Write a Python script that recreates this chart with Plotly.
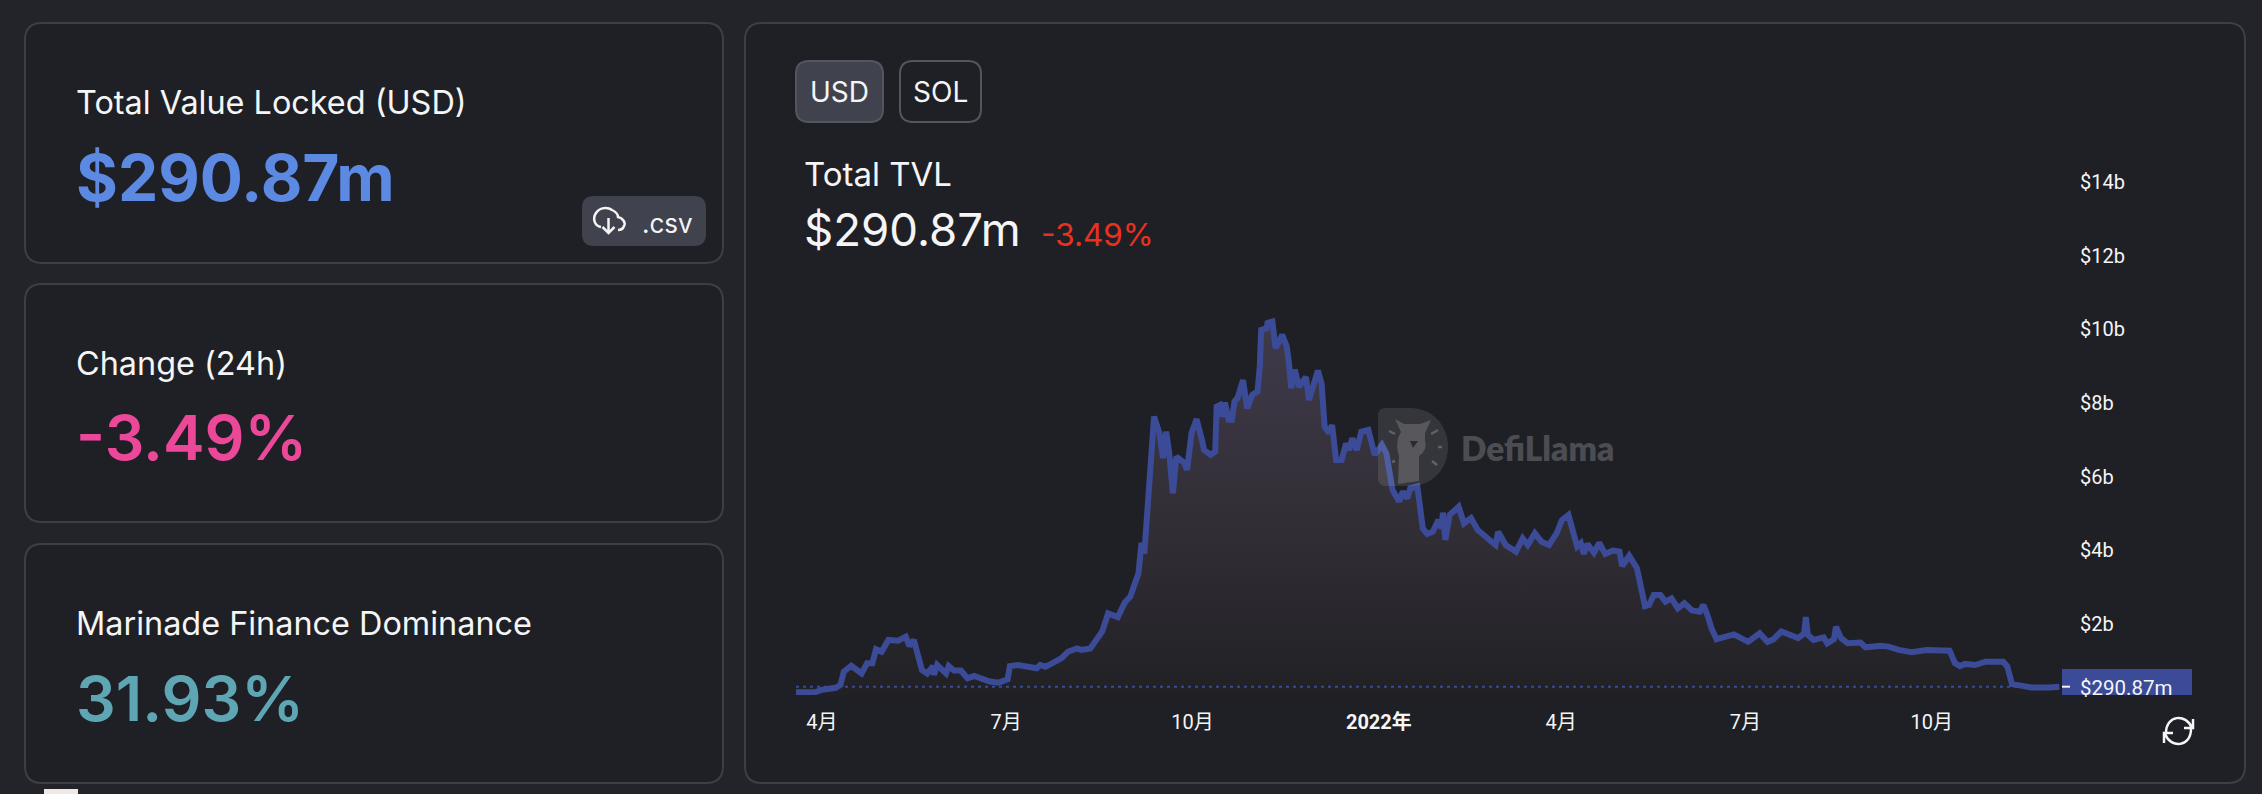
#Marinade Finance TVL panel (DefiLlama style) redrawn with plotly
import pandas as pd
import plotly.graph_objects as go

W, H = 2262, 794

#data
START_DATE = pd.Timestamp("2021-04-01")
days_since_start = [
    -12.8, -3.5, 0.2, 6.8, 9.2, 10.8, 14.5, 17.8, 19.6, 22.3, 24.9, 26.7, 29.5, 32.8, 37.7, 41.4, 43.2, 45.4,
    47.6, 49.4, 52, 54.9, 55.3, 56.9, 61.3, 62.6, 65.3, 68.6, 71.9, 75.2, 82.9, 87.3, 91.7, 92.8, 96.8, 106,
    107.8, 110.4, 118.2, 121.5, 125.9, 128.1, 132.5, 135.8, 138.4, 141.3, 146.1, 149.5, 152.3, 156.3, 157.8,
    159.2, 161.2, 162.3, 164, 166.7, 168.4, 170, 171.5, 173.3, 175, 178.8, 180.3, 182.5, 185, 187.6, 188.7,
    192, 194.2, 194.9, 196.4, 197.5, 199, 200.8, 202.4, 203.7, 205.2, 207.9, 210, 212.5, 215.1, 216.2, 216.9,
    219.6, 220, 222.4, 224, 227.3, 229.5, 230.6, 231.7, 233.5, 235.5, 239, 240.5, 244.9, 246.7, 248.2, 250.4,
    251.9, 253.9, 256.6, 258.8, 260.3, 261.9, 264.1, 266.3, 269.8, 272.9, 276.5, 278.7, 281.7, 285, 286.8,
    289, 290.5, 294, 296.7, 298.9, 301.6, 304.4, 306, 306.6, 307.8, 310, 314.4, 317, 320.5, 323.8, 327.6,
    330, 332.6, 333.9, 337.6, 342.7, 346, 348.5, 352, 355.3, 359, 362.8, 365.4, 368.6, 372.9, 374.7, 376.2,
    378, 381.2, 383.8, 386.8, 390.6, 393.8, 395.1, 398.6, 402.4, 404.4, 406.4, 408.4, 410.7, 414, 416.5,
    419.5, 422.6, 425.8, 429.6, 433.4, 435.2, 437.2, 439.2, 441.7, 446, 450.3, 457.3, 463, 466.9, 469.9,
    473.7, 482, 485, 485.8, 486.8, 489.6, 494.6, 496.4, 499.7, 500.7, 503.2, 506.5, 512.8, 515.3, 522.8,
    526.6, 531.7, 538, 545.5, 556.8, 559.4, 561.9, 564.4, 569.4, 574.5, 583.3, 585.3, 587.6, 592.1, 597.2,
    606, 611,
]
tvl_billions = [
    0.14, 0.14, 0.21, 0.26, 0.34, 0.70, 0.86, 0.74, 0.65, 0.93, 0.93, 1.31, 1.24, 1.56, 1.54, 1.65, 1.40, 1.56,
    1.11, 0.74, 0.65, 0.85, 0.61, 0.88, 0.65, 0.85, 0.73, 0.73, 0.52, 0.58, 0.43, 0.40, 0.49, 0.85, 0.88, 0.79,
    0.88, 0.83, 1.06, 1.24, 1.33, 1.29, 1.33, 1.56, 1.79, 2.28, 2.18, 2.57, 2.74, 3.37, 4.19,
    3.91, 5.64, 6.63, 7.63, 7.17, 6.50, 7.22, 6.63, 5.55, 6.54, 6.38, 6.18, 7.18, 7.56, 7.00, 6.72,
    6.59, 6.68, 7.90, 7.94, 7.63, 8.01, 7.54, 7.54, 8.04, 8.13, 8.62, 7.85, 8.22, 8.31, 8.99, 9.98,
    10.03, 10.17, 10.21, 9.49, 9.85, 9.53, 9.08, 8.40, 8.90, 8.44, 8.70, 8.08, 8.88, 8.53, 7.36, 7.18,
    7.40, 6.45, 6.45, 6.90, 6.72, 7.04, 6.72, 7.22, 7.27, 6.59, 6.86, 6.63, 5.64, 5.32, 5.59,
    5.41, 5.68, 5.73, 4.59, 4.44, 4.50, 4.82, 4.59, 5.02, 4.28, 4.96, 5.18, 4.73, 4.87, 4.55, 4.37,
    4.28, 4.14, 4.50, 4.14, 3.96, 4.32, 4.14, 4.46, 4.23, 4.14, 4.46, 4.82, 4.96, 4.10, 4.19, 3.90,
    4.17, 3.93, 4.20, 3.90, 3.99, 3.96, 3.57, 3.85, 3.51, 2.92, 2.48, 2.51, 2.78, 2.78, 2.60,
    2.69, 2.42, 2.56, 2.36, 2.33, 2.51, 2.24, 1.88, 1.58, 1.63, 1.71, 1.51, 1.74, 1.51, 1.58,
    1.79, 1.61, 1.74, 2.18, 1.70, 1.56, 1.63, 1.47, 1.58, 1.92, 1.61, 1.47, 1.49, 1.36, 1.40,
    1.38, 1.29, 1.23, 1.29, 1.27, 0.93, 0.85, 0.91, 0.88, 0.97, 0.97, 0.84, 0.36, 0.32, 0.27,
    0.27, 0.29,
]
LAST_TVL = 0.29087

x_tick_dates = ["2021-04-01", "2021-07-01", "2021-10-01", "2022-01-01", "2022-04-01", "2022-07-01", "2022-10-01"]
x_tick_labels = ["4月", "7月", "10月", "<b>2022年</b>", "4月", "7月", "10月"]
y_tick_values = [2, 4, 6, 8, 10, 12, 14]
y_tick_labels = ["$2b", "$4b", "$6b", "$8b", "$10b", "$12b", "$14b"]

card_titles = ["Total Value Locked (USD)", "Change (24h)", "Marinade Finance Dominance"]
card_values = ["$290.87m", "-3.49%", "31.93%"]

#colours
PAGE = "#22242a"
CARD = "#1f2025"
BORDER = "#3d3e49"
BUTTON = "#40424d"
BUTTON_LINE = "#53555f"
TEXT = "#f5f5f6"
LINE = "#3c4b97"
card_value_colors = ["#5c89e2", "#ec4899", "#5fa6b5"]
card_value_weights = [700, 600, 600]
card_value_sizes = [64, 62.5, 62.5]


#pixel position -> paper fraction
def fx(x):
    return x / W

def fy(y):
    return 1 - y / H

def pt(x, y):
    return f"{fx(x):.5f},{fy(y):.5f}"

def round_rect(x0, y0, x1, y1, r):
    return (f"M{pt(x0 + r, y0)} L{pt(x1 - r, y0)} Q{pt(x1, y0)} {pt(x1, y0 + r)} "
            f"L{pt(x1, y1 - r)} Q{pt(x1, y1)} {pt(x1 - r, y1)} "
            f"L{pt(x0 + r, y1)} Q{pt(x0, y1)} {pt(x0, y1 - r)} "
            f"L{pt(x0, y0 + r)} Q{pt(x0, y0)} {pt(x0 + r, y0)} Z")

def path_shape(path, fill="rgba(0,0,0,0)", line=None, width=0, layer="below"):
    return dict(type="path", xref="paper", yref="paper", path=path, fillcolor=fill, layer=layer,
                line=dict(color=line if line else "rgba(0,0,0,0)", width=width))

def label(text, x, y, size, color=TEXT, weight=400, anchor="left", family="Inter"):
    return dict(text=text, x=fx(x), y=fy(y), xref="paper", yref="paper", xanchor=anchor, yanchor="middle",
                showarrow=False, font=dict(family=family, size=size, color=color, weight=weight))


shapes = []
annotations = []

#cards on the left
card_tops = [(23, 263), (284, 522), (544, 783)]
title_y = [103, 363, 623]
value_y = [177, 437, 698]
for i in range(3):
    top, bottom = card_tops[i]
    shapes.append(path_shape(round_rect(25, top, 723, bottom, 17), CARD, BORDER, 2))
    annotations.append(label(card_titles[i], 74, title_y[i], 32.4))
    annotations.append(label(card_values[i], 74, value_y[i], card_value_sizes[i], card_value_colors[i],
                             card_value_weights[i]))

#chart panel and buttons
shapes.append(path_shape(round_rect(745, 23, 2245, 783, 17), CARD, BORDER, 2))
shapes.append(path_shape(round_rect(796, 61, 883, 122, 13), BUTTON, BUTTON_LINE, 2))
shapes.append(path_shape(round_rect(900, 61, 981, 122, 13), CARD, BUTTON_LINE, 2))
annotations.append(label("USD", 839, 92, 28, anchor="center"))
annotations.append(label("SOL", 940, 92, 28, anchor="center"))
annotations.append(label("Total TVL", 802, 174, 33))
annotations.append(label("$290.87m", 802, 230, 45.6))
annotations.append(label("-3.49%", 1039, 234, 31.5, "#e8321f"))

#csv button with cloud icon
shapes.append(path_shape(round_rect(582, 196, 706, 246, 12), BUTTON))
cloud = (f"M{pt(601, 227)} C{pt(595, 226)} {pt(592, 219)} {pt(596, 213)} C{pt(600, 207)} {pt(608, 207)} {pt(612, 210)} "
         f"C{pt(616, 212)} {pt(618, 215)} {pt(618, 217)} C{pt(623, 218)} {pt(626, 223)} {pt(624, 226)} "
         f"C{pt(623, 229)} {pt(620, 230)} {pt(618, 230)}")
shapes.append(path_shape(cloud, line=TEXT, width=2.5))
shapes.append(path_shape(f"M{pt(608.5, 218)} L{pt(608.5, 233)} M{pt(602.5, 227)} L{pt(608.5, 233)} L{pt(614.5, 227)}",
                         line=TEXT, width=2.5))
annotations.append(label(".csv", 640, 223, 26))

#refresh icon
refresh = (f"M{pt(2166, 733)} C{pt(2166, 715)} {pt(2186, 713)} {pt(2192, 728)} "
           f"M{pt(2193, 719)} L{pt(2193, 728)} L{pt(2184, 728)} "
           f"M{pt(2191, 729)} C{pt(2191, 747)} {pt(2171, 749)} {pt(2165, 734)} "
           f"M{pt(2164, 743)} L{pt(2164, 733)} L{pt(2173, 733)}")
shapes.append(path_shape(refresh, line=TEXT, width=2.5))

#scrap of something white under the cards
shapes.append(dict(type="rect", xref="paper", yref="paper", x0=fx(44), x1=fx(78), y0=fy(794), y1=fy(789),
                   fillcolor="#f0e8e4", line=dict(width=0), layer="below"))

#last value guide line
shapes.append(dict(type="line", xref="paper", yref="y", x0=fx(796), x1=fx(2062), y0=LAST_TVL, y1=LAST_TVL,
                   line=dict(color=LINE, width=2, dash="3px,4px"), layer="above"))
#price tag on the axis
shapes.append(dict(type="rect", xref="paper", yref="paper", x0=fx(2062), x1=fx(2192), y0=fy(695), y1=fy(669),
                   fillcolor=LINE, line=dict(width=0), layer="above"))
shapes.append(dict(type="line", xref="paper", yref="y", x0=fx(2062), x1=fx(2070), y0=LAST_TVL, y1=LAST_TVL,
                   line=dict(color=TEXT, width=2), layer="above"))
annotations.append(dict(text="$290.87m", x=fx(2078), y=LAST_TVL, xref="paper", yref="y", xanchor="left",
                        yanchor="middle", yshift=-1, showarrow=False,
                        font=dict(family="Roboto", size=20.5, color=TEXT)))

#watermark logo
logo_d = (f"M{pt(1386, 408)} L{pt(1410, 408)} C{pt(1432, 408)} {pt(1448, 425)} {pt(1448, 447)} "
          f"C{pt(1448, 469)} {pt(1432, 486)} {pt(1410, 486)} L{pt(1386, 486)} Q{pt(1378, 486)} {pt(1378, 478)} "
          f"L{pt(1378, 416)} Q{pt(1378, 408)} {pt(1386, 408)} Z")
shapes.append(path_shape(logo_d, "rgba(255,255,255,0.10)", layer="above"))
llama = (f"M{pt(1395, 419)} L{pt(1404, 424)} L{pt(1420, 424)} L{pt(1431, 420)} L{pt(1425, 433)} L{pt(1425, 440)} "
         f"Q{pt(1428, 450)} {pt(1419, 456)} L{pt(1419, 481)} L{pt(1398, 484)} L{pt(1399, 456)} "
         f"Q{pt(1396, 448)} {pt(1398, 438)} L{pt(1401, 432)} Z")
shapes.append(path_shape(llama, "rgba(255,255,255,0.17)", layer="above"))
shapes.append(path_shape(f"M{pt(1410, 441)} L{pt(1418, 441)} L{pt(1413, 448)} Z", "#2a2b30", layer="above"))
logo_ticks = (f"M{pt(1389, 431)} L{pt(1395, 434)} M{pt(1431, 434)} L{pt(1438, 430)} M{pt(1438, 447)} L{pt(1442, 447)} "
              f"M{pt(1432, 461)} L{pt(1437, 465)} M{pt(1392, 462)} L{pt(1395, 461)}")
shapes.append(path_shape(logo_ticks, line="rgba(255,255,255,0.22)", width=2.5, layer="above"))
annotations.append(label("DefiLlama", 1459, 448, 33.5, "#4c4d52", 800, family="Lato"))

#the series
dates = START_DATE + pd.to_timedelta(days_since_start, unit="D")

fig = go.Figure()
fig.add_trace(go.Scatter(
    x=dates,
    y=tvl_billions,
    mode="lines",
    line=dict(color=LINE, width=6),
    fill="tozeroy",
    fillgradient=dict(type="vertical", colorscale=[[0, "#212125"], [0.5, "#332f37"], [1, "#3f3a4a"]]),
    hoverinfo="skip",
))

#x-axis
fig.update_xaxes(
    domain=[fx(796), fx(2062)],
    range=["2021-03-19 05:00", "2022-12-04 07:00"],
    tickmode="array",
    tickvals=x_tick_dates,
    ticktext=x_tick_labels,
    ticks="outside",
    ticklen=9,
    tickcolor="rgba(0,0,0,0)",
    tickfont=dict(family="Roboto, Noto Sans CJK JP", size=20, color=TEXT),
    showgrid=False,
    zeroline=False,
    showline=False,
)

#y-axis
fig.update_yaxes(
    domain=[fy(695), fy(100)],
    range=[0.065, 16.23],
    side="right",
    tickmode="array",
    tickvals=y_tick_values,
    ticktext=y_tick_labels,
    ticks="outside",
    ticklen=13,
    tickcolor="rgba(0,0,0,0)",
    tickfont=dict(family="Roboto", size=20, color=TEXT),
    showgrid=False,
    zeroline=False,
    showline=False,
)

fig.update_layout(
    width=W,
    height=H,
    autosize=False,
    margin=dict(l=0, r=0, t=0, b=0),
    paper_bgcolor=PAGE,
    plot_bgcolor="rgba(0,0,0,0)",
    showlegend=False,
    shapes=shapes,
    annotations=annotations,
)

#default body margin would push the chart off the window
fig.write_html("out.html", config={"displayModeBar": False},
               post_script="document.body.style.margin='0';document.body.style.background='" + PAGE + "';")
